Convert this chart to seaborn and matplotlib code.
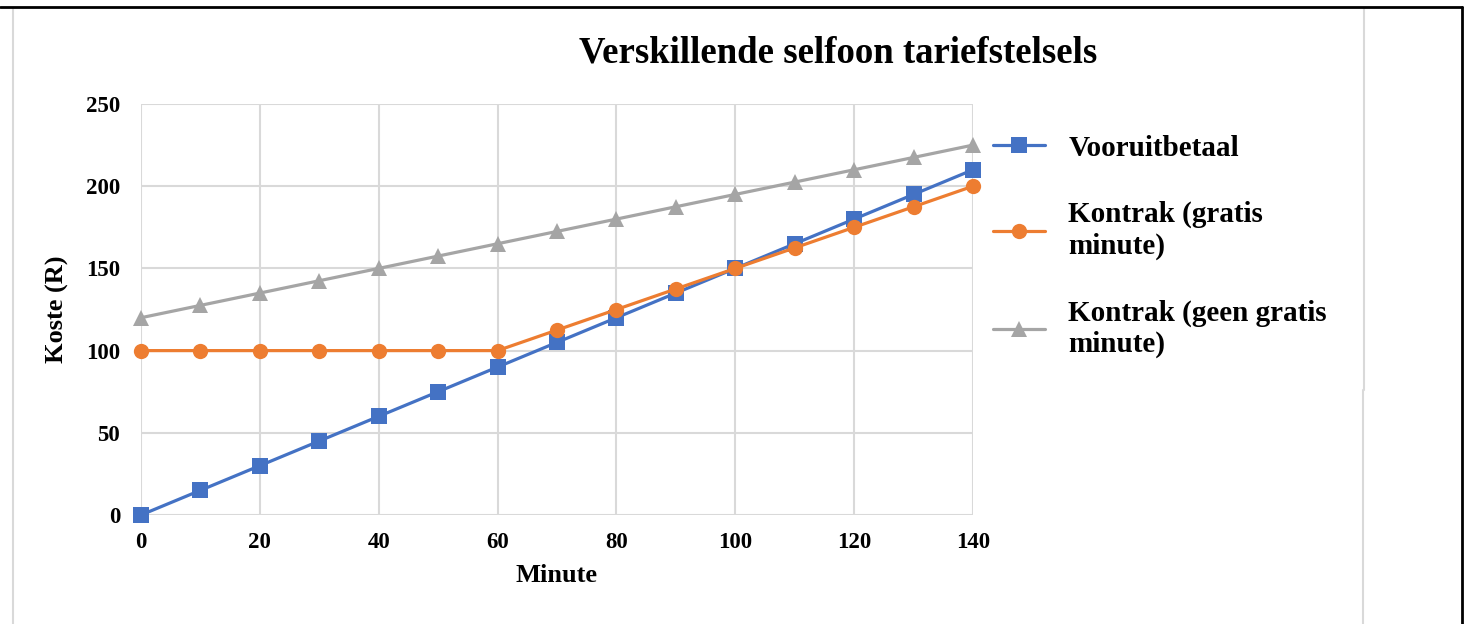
import pandas as pd
import matplotlib.pyplot as plt
import seaborn as sns
from matplotlib.lines import Line2D

# data
minute = [0, 10, 20, 30, 40, 50, 60, 70, 80, 90, 100, 110, 120, 130, 140]
vooruit = [0, 15, 30, 45, 60, 75, 90, 105, 120, 135, 150, 165, 180, 195, 210]
gratis = [100, 100, 100, 100, 100, 100, 100, 112.5, 125, 137.5, 150, 162.5, 175, 187.5, 200]
geen = [120, 127.5, 135, 142.5, 150, 157.5, 165, 172.5, 180, 187.5, 195, 202.5, 210, 217.5, 225]
names = ["Vooruitbetaal", "Kontrak (gratis\nminute)", "Kontrak (geen gratis\nminute)"]
colors = ["#4472C4", "#ED7D31", "#A5A5A5"]
markers = ["s", "o", "^"]

df = pd.DataFrame({"Minute": minute, names[0]: vooruit, names[1]: gratis, names[2]: geen})
long = df.melt(id_vars="Minute", var_name="Plan", value_name="Koste")

sns.set_style("white")
plt.rcParams["font.family"] = ["Liberation Serif", "DejaVu Serif"]
plt.rcParams["font.weight"] = "bold"
plt.rcParams["text.color"] = "black"
plt.rcParams["axes.labelcolor"] = "black"
plt.rcParams["xtick.color"] = "black"
plt.rcParams["ytick.color"] = "black"

W, H = 1468, 624
fig = plt.figure(figsize=(W / 100, H / 100), dpi=100)
ax = fig.add_axes([141 / W, 1 - 515 / H, (973 - 141) / W, (515 - 104) / H])

sns.lineplot(data=long, x="Minute", y="Koste", hue="Plan", style="Plan",
             hue_order=names, style_order=names, palette=colors,
             markers=markers, dashes=False, markersize=11, linewidth=2.3,
             markeredgewidth=0, ax=ax, zorder=3)

ax.set_xlim(0, 140)
ax.set_ylim(0, 250)
ax.set_xticks(range(0, 141, 20))
ax.set_yticks(range(0, 251, 50))
ax.grid(True, color="#d9d9d9", linewidth=1.5)
for s in ax.spines.values():
    s.set_visible(False)
ax.tick_params(length=0, labelsize=16.5, labelcolor="black")
ax.tick_params(axis="y", pad=15)
ax.tick_params(axis="x", pad=12)
for lab in ax.get_xticklabels() + ax.get_yticklabels():
    lab.set_fontweight("bold")
for c in ax.collections + ax.lines:
    c.set_clip_on(False)
ax.set_xlabel("Minute", fontsize=19, fontweight="bold", labelpad=8, color="black")
ax.set_ylabel("Koste (R)", fontsize=19, fontweight="bold", labelpad=12, color="black")

leg = ax.legend(loc="upper left", bbox_to_anchor=(978 / W, 1 - 120 / H),
                bbox_transform=fig.transFigure, frameon=False,
                handlelength=1.8, handletextpad=0.8, borderpad=0, labelspacing=1.35,
                prop={"weight": "bold", "size": 21})
for t in leg.get_texts():
    t.set_color("black")

fig.text(838 / W, 1 - 53 / H, "Verskillende selfoon tariefstelsels",
         ha="center", va="center", fontsize=26.5, fontweight="bold", color="black")

# page frame
fig.add_artist(Line2D([13 / W, 13 / W], [0, 1 - 8 / H], color="#d9d9d9", lw=1.5))
fig.add_artist(Line2D([1364 / W, 1364 / W], [1 - 390 / H, 1 - 8 / H], color="#d9d9d9", lw=1.5))
fig.add_artist(Line2D([1363 / W, 1363 / W], [0, 1 - 390 / H], color="#d9d9d9", lw=1.5))
fig.add_artist(Line2D([0, 1462 / W], [1 - 7 / H, 1 - 7 / H], color="black", lw=2))
fig.add_artist(Line2D([1462 / W, 1462 / W], [0, 1 - 7 / H], color="black", lw=2))

fig.savefig("out.png", dpi=100)
